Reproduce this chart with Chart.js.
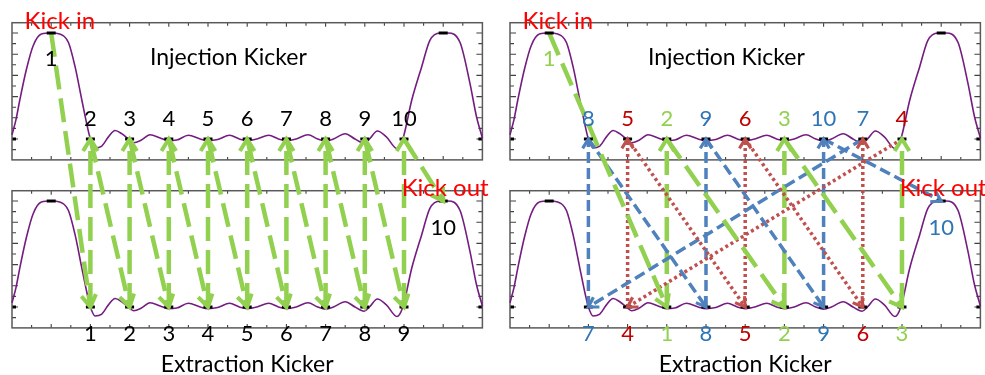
<!DOCTYPE html>
<html><head><meta charset="utf-8">
<script src="https://cdn.jsdelivr.net/npm/chart.js@4/dist/chart.umd.min.js"></script>
<style>html,body{margin:0;padding:0;background:#fff;}canvas{display:block;}</style>
</head><body>
<canvas id="c" width="985" height="375"></canvas>
<script>
// ---------------- data ----------------
const SLOTS = [0,1,2,3,4,5,6,7,8,9,10,11,12];
const MARKER_LEVEL = [0,1,0,0,0,0,0,0,0,0,0,1,0];   // kicker amplitude at each bucket slot

// kicker waveform (slot position, normalised amplitude)
const CURVE_U = [0.00,0.10,0.20,0.37,0.54,0.75,1.00,1.22,1.44,1.61,1.78,1.92,2.00,2.12,2.28,2.46,2.63,2.80,2.97,3.10,3.30,3.52,3.78,3.98,4.20,4.50,4.80,5.00,5.25,5.55,5.80,6.00,6.25,6.55,6.80,7.00,7.25,7.55,7.80,8.00,8.20,8.50,8.75,8.98,9.12,9.32,9.55,9.82,9.97,10.20,10.45,10.66,10.92,11.12,11.43,11.68,11.85,12.00];
const CURVE_V = [0.04,0.18,0.37,0.66,0.88,0.99,1.00,0.99,0.91,0.68,0.37,0.12,0.00,-0.085,-0.07,0.02,0.08,0.05,0.00,-0.035,-0.01,0.04,0.01,-0.015,-0.01,0.035,0.00,-0.015,-0.005,0.035,0.00,-0.015,0.00,0.035,0.00,-0.015,0.00,0.04,0.00,-0.02,0.00,0.05,0.00,-0.04,0.00,0.075,0.02,-0.09,0.00,0.37,0.68,0.93,1.00,1.00,0.91,0.53,0.21,0.01];

// bunch numbers in injection slots and extraction slots
const INJ_SLOTS = [1,2,3,4,5,6,7,8,9,10];
const EXT_SLOTS = [2,3,4,5,6,7,8,9,10,11];
const LEFT_INJ_BUNCH  = [1,2,3,4,5,6,7,8,9,10];
const LEFT_EXT_BUNCH  = [1,2,3,4,5,6,7,8,9,10];
const RIGHT_INJ_BUNCH = [1,8,5,2,9,6,3,10,7,4];
const RIGHT_EXT_BUNCH = [7,4,1,8,5,2,9,6,3,10];
const BUNCH_GROUP = {1:'green',2:'green',3:'green',4:'red',5:'red',6:'red',7:'blue',8:'blue',9:'blue',10:'blue'};

const TITLES = ['Injection Kicker','Extraction Kicker'];
const KICK_TEXT = ['Kick in','Kick out'];

// ---------------- layout / style ----------------
const W = 985, H = 375;
const PX_PER_SLOT = 39.2, SLOT0_PX = 12;
const PX_PER_UNIT = 106, BASE_PX = 139;
const RIGHT_DX = 12.704;      // right diagram offset in slot units
const BOTTOM_DY = -1.585;     // extraction panel offset in amplitude units
const PANELS = [{dx:0,dy:0},{dx:0,dy:BOTTOM_DY},{dx:RIGHT_DX,dy:0},{dx:RIGHT_DX,dy:BOTTOM_DY}];
const FRAME = {u0:0, u1:12, vTop:1.097, vBot:-0.197};
const LINE_STYLE = {
  green:{color:'#92d050', width:4.5, dash:[24,9], head:14, text:'#92d050'},
  red:  {color:'#c0504d', width:3.5, dash:[3,3],  head:11, text:'#c00000'},
  blue: {color:'#4f81bd', width:3.5, dash:[11,5], head:11, text:'#2e75b6'},
  leftGreen:{color:'#92d050', width:4.5, dash:[24,9], head:14, text:'#000000'}
};
const CURVE_COLOR = '#741c80';
const FONT = 'Lato, "Open Sans", sans-serif';

// ---------------- datasets ----------------
const datasets = [];
// markers
PANELS.forEach(p => {
  datasets.push({
    data: SLOTS.filter(s => s>0 && s<12).map(s => ({x:s+p.dx, y:MARKER_LEVEL[s]+p.dy})),
    showLine:false, pointStyle:'line', pointRadius:4.5, pointBorderWidth:3,
    pointBorderColor:'#000', borderColor:'#000', order:0
  });
});
// arrows
const arrowSpecs = [];
function buildArrows(injB, extB, dx, styleOf){
  injB.forEach((n,i) => {
    const s0 = INJ_SLOTS[i], s1 = EXT_SLOTS[extB.indexOf(n)];
    arrowSpecs.push({a:[s0+dx, MARKER_LEVEL[s0]], b:[s1+dx, MARKER_LEVEL[s1]+BOTTOM_DY], st:styleOf(n)});
  });
  extB.forEach((n,j) => {
    const s = EXT_SLOTS[j];
    if (INJ_SLOTS.includes(s) && MARKER_LEVEL[s]===0)
      arrowSpecs.push({a:[s+dx, BOTTOM_DY], b:[s+dx, 0], st:styleOf(n)});
  });
}
buildArrows(LEFT_INJ_BUNCH, LEFT_EXT_BUNCH, 0, n => LINE_STYLE.leftGreen);
buildArrows(RIGHT_INJ_BUNCH, RIGHT_EXT_BUNCH, RIGHT_DX, n => LINE_STYLE[BUNCH_GROUP[n]]);
arrowSpecs.forEach(a => {
  datasets.push({
    data:[{x:a.a[0],y:a.a[1]},{x:a.b[0],y:a.b[1]}],
    showLine:true, pointRadius:0, borderColor:a.st.color, borderWidth:a.st.width,
    borderDash:a.st.dash, borderCapStyle:'butt', order:1, arrowHead:a.st.head
  });
});
// curves
PANELS.forEach(p => {
  datasets.push({
    data: CURVE_U.map((u,i) => ({x:u+p.dx, y:CURVE_V[i]+p.dy})),
    showLine:true, pointRadius:0, borderColor:CURVE_COLOR, borderWidth:1.6,
    cubicInterpolationMode:'monotone', order:2
  });
});

// ---------------- text items ----------------
const texts = [];
function addLabels(injB, extB, dx, colorOf){
  injB.forEach((n,i) => {
    const s = INJ_SLOTS[i];
    texts.push({t:String(n), u:s+dx, v: MARKER_LEVEL[s] ? 0.685 : 0.118, c:colorOf(n), f:'22px '+FONT});
  });
  extB.forEach((n,j) => {
    const s = EXT_SLOTS[j];
    texts.push({t:String(n), u:s+dx, v:(MARKER_LEVEL[s] ? 0.68 : -0.325)+BOTTOM_DY, c:colorOf(n), f:'22px '+FONT});
  });
}
addLabels(LEFT_INJ_BUNCH, LEFT_EXT_BUNCH, 0, n => '#000');
addLabels(RIGHT_INJ_BUNCH, RIGHT_EXT_BUNCH, RIGHT_DX, n => LINE_STYLE[BUNCH_GROUP[n]].text);
[0, RIGHT_DX].forEach(dx => {
  texts.push({t:TITLES[0], u:5.52+dx, v:0.698, c:'#000', f:'23px '+FONT});
  texts.push({t:TITLES[1], u:6.0+dx, v:-0.613+BOTTOM_DY, c:'#000', f:'23px '+FONT});
  texts.push({t:KICK_TEXT[0], u:1.22+dx, v:1.035, c:'#ff0000', f:'24px '+FONT});
  texts.push({t:KICK_TEXT[1], u:11.05+dx, v:1.045+BOTTOM_DY, c:'#ff0000', f:'24px '+FONT});
});

// ---------------- plugins ----------------
const framePlugin = {
  id:'frames',
  beforeDatasetsDraw(chart){
    const c = chart.ctx, xs = chart.scales.x, ys = chart.scales.y;
    c.save();
    PANELS.forEach(p => {
      const L = xs.getPixelForValue(FRAME.u0+p.dx), R = xs.getPixelForValue(FRAME.u1+p.dx);
      const T = ys.getPixelForValue(FRAME.vTop+p.dy), B = ys.getPixelForValue(FRAME.vBot+p.dy);
      c.strokeStyle = '#404040'; c.lineWidth = 1.1;
      c.beginPath();
      for (let k=1;k<24;k++){
        const x = xs.getPixelForValue(k/2+p.dx), len = k%2===0 ? 4 : 3;
        c.moveTo(x,T); c.lineTo(x,T+len);
        c.moveTo(x,B); c.lineTo(x,B-len);
      }
      for (let k=-1;k<=10;k++){
        const y = ys.getPixelForValue(k/10+p.dy), len = k%2===0 ? 6 : 4;
        c.moveTo(L,y); c.lineTo(L+len,y);
        c.moveTo(R,y); c.lineTo(R-len,y);
      }
      c.stroke();
      // bucket markers at frame edges (slot 0 and 12)
      c.lineWidth = 3; c.strokeStyle = '#000';
      c.beginPath();
      const y0 = ys.getPixelForValue(MARKER_LEVEL[0]+p.dy);
      c.moveTo(L,y0); c.lineTo(L+4,y0);
      const y12 = ys.getPixelForValue(MARKER_LEVEL[12]+p.dy);
      c.moveTo(R,y12); c.lineTo(R-4,y12);
      c.stroke();
      c.strokeStyle = '#5a5a5a'; c.lineWidth = 1.5;
      c.strokeRect(L,T,R-L,B-T);
    });
    c.restore();
  }
};
const arrowPlugin = {
  id:'arrowheads',
  afterDatasetsDraw(chart){
    const c = chart.ctx;
    c.save();
    chart.data.datasets.forEach((ds,i) => {
      if (!ds.arrowHead) return;
      const m = chart.getDatasetMeta(i), p0 = m.data[0], p1 = m.data[1];
      const ang = Math.atan2(p1.y-p0.y, p1.x-p0.x), L = ds.arrowHead, a = 0.55;
      c.strokeStyle = ds.borderColor; c.lineWidth = ds.borderWidth*0.9;
      c.lineCap = 'butt'; c.lineJoin = 'miter'; c.setLineDash([]);
      c.beginPath();
      c.moveTo(p1.x - L*Math.cos(ang-a), p1.y - L*Math.sin(ang-a));
      c.lineTo(p1.x, p1.y);
      c.lineTo(p1.x - L*Math.cos(ang+a), p1.y - L*Math.sin(ang+a));
      c.stroke();
    });
    c.restore();
  }
};
const textPlugin = {
  id:'texts',
  afterDraw(chart){
    const c = chart.ctx, xs = chart.scales.x, ys = chart.scales.y;
    c.save();
    c.textAlign = 'center'; c.textBaseline = 'alphabetic';
    texts.forEach(t => {
      c.font = t.f; c.fillStyle = t.c;
      c.fillText(t.t, xs.getPixelForValue(t.u), ys.getPixelForValue(t.v));
    });
    c.restore();
  }
};

new Chart(document.getElementById('c').getContext('2d'), {
  type:'scatter',
  data:{datasets},
  options:{
    responsive:false, animation:false, devicePixelRatio:1, events:[],
    layout:{padding:0, autoPadding:false},
    scales:{
      x:{type:'linear', display:false, min:-SLOT0_PX/PX_PER_SLOT, max:(W-SLOT0_PX)/PX_PER_SLOT},
      y:{type:'linear', display:false, min:(BASE_PX-H)/PX_PER_UNIT, max:BASE_PX/PX_PER_UNIT}
    },
    plugins:{legend:{display:false}, tooltip:{enabled:false}}
  },
  plugins:[framePlugin, arrowPlugin, textPlugin]
});
</script>
</body></html>
